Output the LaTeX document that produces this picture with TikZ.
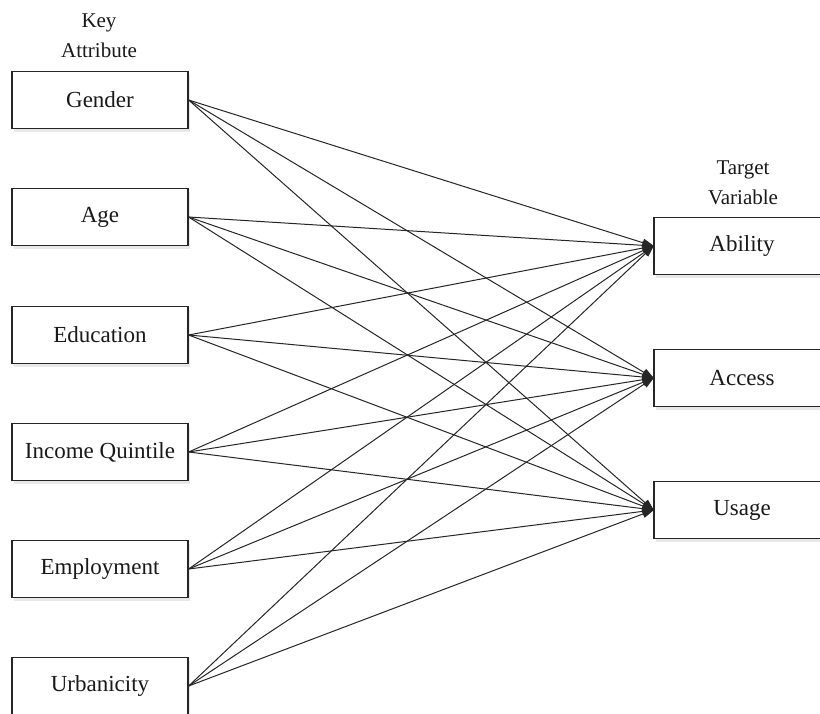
\documentclass[tikz,border=0pt]{standalone}
\usepackage{fontspec}
\setmainfont{Liberation Serif}
\usetikzlibrary{arrows.meta,shadows}
\begin{document}
\begin{tikzpicture}[x=1pt,y=-1pt,
  every node/.style={font=\fontsize{23}{27}\selectfont, text=black!90},
  attr/.style={draw=black!85, line width=1.2pt, fill=white, minimum width=176pt, minimum height=57pt, inner sep=0pt,
    drop shadow={opacity=0.18, shadow xshift=2pt, shadow yshift=-3pt}},
  link/.style={draw=black!85, line width=1pt, -{Triangle[length=12pt,width=8pt]}, shorten >=-1pt},
  caption/.style={align=center, font=\fontsize{21}{30}\selectfont}]
\clip (0,0) rectangle (820,713);
\fill[white] (0,0) rectangle (820,713);

% column captions
\node[caption] (kcap) at (99,36) {Key\\Attribute};
\node[caption] (tcap) at (743,183) {Target\\Variable};

% key attributes (left column)
\node[attr] (gender) at (100,100) {Gender};
\node[attr] (age)    at (100,217) {Age};
\node[attr] (edu)    at (100,335) {Education};
\node[attr] (inc)    at (100,452) {Income Quintile};
\node[attr] (emp)    at (100,569) {Employment};
\node[attr] (urb)    at (100,686) {Urbanicity};

% target variables (right column)
\node[attr] (ability) at (742,246) {Ability};
\node[attr] (access)  at (742,378) {Access};
\node[attr] (usage)   at (742,510) {Usage};

% every attribute feeds every target
\foreach \s in {gender,age,edu,inc,emp,urb}
  \foreach \t in {ability,access,usage}
    \draw[link] (\s.east) -- (\t.west);
\end{tikzpicture}
\end{document}
